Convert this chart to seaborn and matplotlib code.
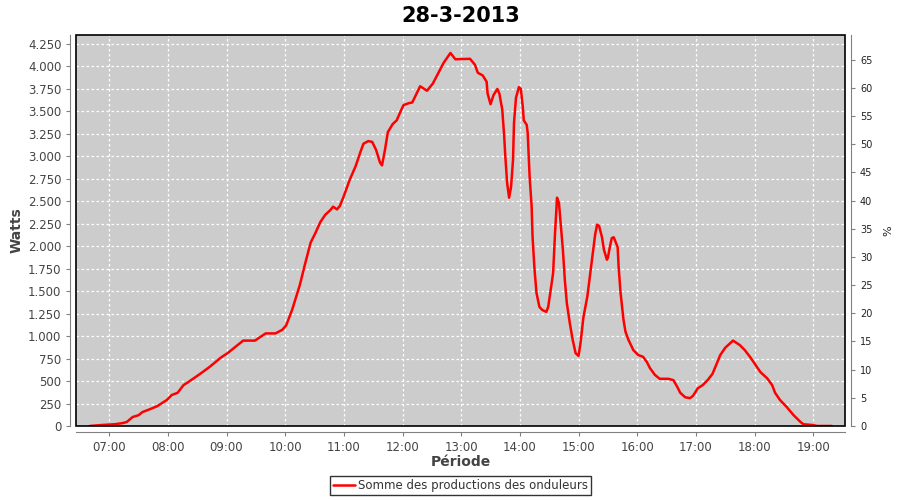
import pandas as pd
import seaborn as sns
import matplotlib
matplotlib.use('Agg')
import matplotlib.pyplot as plt
import matplotlib.dates as mdates
from matplotlib.ticker import FuncFormatter, MultipleLocator
from matplotlib.patches import Rectangle

# readings of the day (time, watts)
times = ['06:40', '06:51', '07:06', '07:14', '07:18', '07:24', '07:30', '07:34', '07:40', '07:49',
         '07:59', '08:04', '08:10', '08:16', '08:21', '08:33', '08:43', '08:54', '09:01', '09:09',
         '09:17', '09:29', '09:36', '09:40', '09:50', '09:57', '10:01', '10:07', '10:15', '10:20',
         '10:26', '10:31', '10:36', '10:41', '10:46', '10:49', '10:53', '10:56', '11:00', '11:06',
         '11:12', '11:17', '11:20', '11:25', '11:29', '11:33', '11:37', '11:39', '11:42', '11:45',
         '11:50', '11:54', '11:58', '12:01', '12:06', '12:10', '12:18', '12:25', '12:31', '12:42',
         '12:49', '12:54', '13:09', '13:14', '13:17', '13:22', '13:26', '13:27', '13:30', '13:33',
         '13:37', '13:39', '13:42', '13:44', '13:45', '13:47', '13:49', '13:51', '13:53', '13:54',
         '13:56', '13:59', '14:01', '14:03', '14:04', '14:07', '14:08', '14:10', '14:12', '14:13',
         '14:15', '14:17', '14:20', '14:23', '14:27', '14:29', '14:32', '14:34', '14:36', '14:38',
         '14:40', '14:42', '14:44', '14:46', '14:48', '14:51', '14:54', '14:57', '15:00', '15:02',
         '15:05', '15:09', '15:12', '15:15', '15:17', '15:19', '15:21', '15:24', '15:26', '15:29',
         '15:30', '15:32', '15:34', '15:36', '15:40', '15:41', '15:43', '15:46', '15:48', '15:51',
         '15:56', '16:01', '16:06', '16:10', '16:13', '16:18', '16:23', '16:32', '16:37', '16:41',
         '16:44', '16:49', '16:54', '16:57', '17:02', '17:07', '17:12', '17:17', '17:25', '17:30',
         '17:38', '17:45', '17:50', '17:56', '18:01', '18:06', '18:13', '18:18', '18:21', '18:26',
         '18:33', '18:40', '18:47', '18:50', '19:00', '19:04', '19:19']
watts = [0, 10, 20, 33, 45, 100, 120, 155, 180, 220,
         290, 345, 370, 455, 490, 580, 660, 760, 810, 880,
         950, 950, 1000, 1030, 1030, 1070, 1120, 1290, 1570, 1790,
         2040, 2150, 2270, 2350, 2400, 2440, 2410, 2450, 2560, 2740,
         2890, 3050, 3140, 3170, 3160, 3070, 2930, 2900, 3070, 3270,
         3360, 3400, 3500, 3570, 3590, 3600, 3780, 3730, 3810, 4040,
         4150, 4080, 4085, 4020, 3930, 3900, 3830, 3700, 3580, 3680,
         3750, 3700, 3520, 3220, 3020, 2700, 2540, 2660, 2960, 3370,
         3650, 3770, 3750, 3550, 3400, 3350, 3260, 2770, 2450, 2100,
         1740, 1480, 1325, 1290, 1270, 1325, 1550, 1700, 2150, 2540,
         2480, 2215, 1960, 1625, 1370, 1150, 960, 810, 780, 920,
         1210, 1440, 1700, 1960, 2130, 2240, 2225, 2100, 1960, 1850,
         1870, 1990, 2090, 2100, 1990, 1770, 1480, 1180, 1050, 960,
         845, 790, 770, 710, 645, 570, 525, 525, 510, 435,
         370, 320, 310, 335, 420, 455, 510, 580, 790, 870,
         950, 900, 845, 760, 680, 600, 530, 455, 370, 290,
         210, 120, 45, 20, 10, 0, 0]

day = '2013-03-28'
df = pd.DataFrame({'time': pd.to_datetime([day + ' ' + t for t in times]), 'watts': watts})

sns.set_style('white')
plt.rcParams['font.family'] = ['DejaVu Sans']

fig = plt.figure(figsize=(9, 5), dpi=100)
ax = fig.add_axes([0.0844, 0.148, 0.855, 0.782])
ax.set_facecolor('#cccccc')

sns.lineplot(data=df, x='time', y='watts', ax=ax, color='#ff0000', linewidth=1.8,
             label='Somme des productions des onduleurs')

ax.set_xlim(pd.Timestamp(day + ' 06:26'), pd.Timestamp(day + ' 19:33'))
ax.set_ylim(0, 4350)
ax.yaxis.set_major_locator(MultipleLocator(250))
ax.yaxis.set_major_formatter(FuncFormatter(lambda v, p: f'{int(v):,}'.replace(',', '.')))
ax.xaxis.set_major_locator(mdates.HourLocator())
ax.xaxis.set_major_formatter(mdates.DateFormatter('%H:%M'))
ax.grid(True, color='white', linestyle=(0, (2, 2)), linewidth=0.9)

for s in ['top', 'right']:
    ax.spines[s].set_visible(False)
for s in ['left', 'bottom']:
    ax.spines[s].set_position(('outward', 4))
    ax.spines[s].set_color('#808080')
ax.add_patch(Rectangle((0, 0), 1, 1, transform=ax.transAxes, fill=False,
                       edgecolor='black', linewidth=1.2, zorder=5, clip_on=False))
ax.tick_params(axis='both', colors='#808080', labelcolor='#444444', labelsize=8.5,
               length=3, width=0.8, direction='out', left=True, bottom=True)

ax.set_xlabel('Période', fontsize=10, fontweight='bold', color='#444444', labelpad=1)
ax.set_ylabel('Watts', fontsize=10, fontweight='bold', color='#444444', labelpad=3)
ax.set_title('28-3-2013', fontsize=15, fontweight='bold', color='black', pad=9)

# right-hand percentage axis
ax2 = ax.twinx()
ax2.set_ylim(0, 69.4)
ax2.yaxis.set_major_locator(MultipleLocator(5))
for s in ['top', 'left', 'bottom']:
    ax2.spines[s].set_visible(False)
ax2.spines['right'].set_position(('outward', 4))
ax2.spines['right'].set_color('#808080')
ax2.tick_params(axis='y', colors='#808080', labelcolor='#222222', labelsize=7,
                length=3, width=0.8, direction='out', right=True)
ax2.set_ylabel('%', fontsize=8, color='#222222', labelpad=8)

leg = ax.legend(loc='upper center', bbox_to_anchor=(0.5, -0.128), frameon=True, fancybox=False,
                fontsize=8.5, handlelength=1.8, handletextpad=0.3, borderpad=0.25,
                borderaxespad=0)
leg.get_frame().set_edgecolor('black')
leg.get_frame().set_linewidth(1)
for t in leg.get_texts():
    t.set_color('#333333')

fig.savefig('out.png', dpi=100)
